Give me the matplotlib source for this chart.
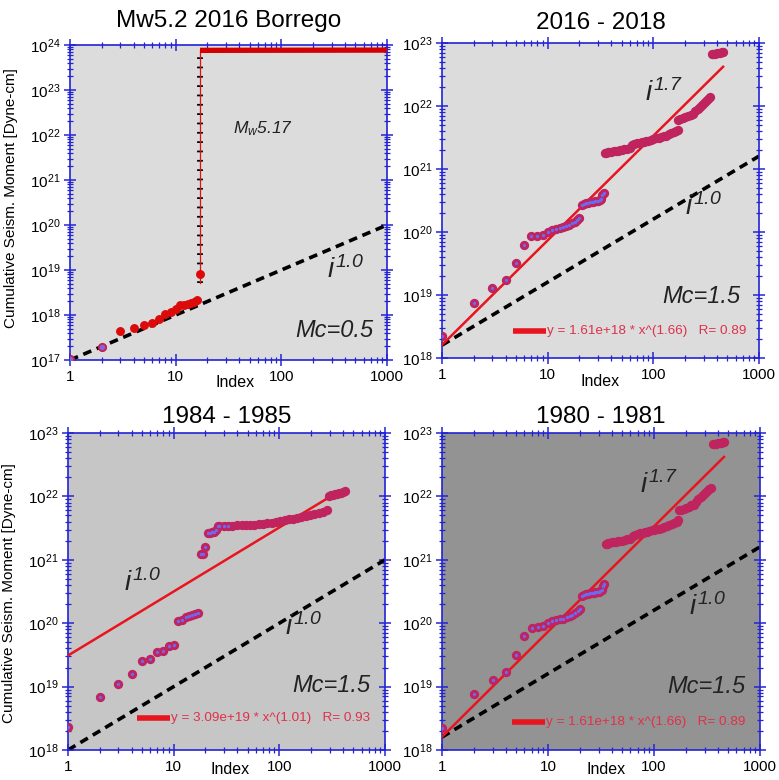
import numpy as np
import matplotlib
matplotlib.use("Agg")
from matplotlib import pyplot as plt
from matplotlib.ticker import NullFormatter, LogLocator

plt.rcParams['font.family'] = ['Liberation Sans', 'DejaVu Sans']
# \mathit letters and digits in italic sans, tick labels stay upright (\mathdefault)
plt.rcParams['mathtext.fontset'] = 'custom'
plt.rcParams['mathtext.rm'] = 'Liberation Sans:italic'
plt.rcParams['mathtext.it'] = 'Liberation Sans:italic'
plt.rcParams['mathtext.default'] = 'regular'

# Borrego 2016, Mc=0.5
borrego_idx = [1, 2, 3, 4, 5, 6, 7, 8, 9, 10, 11, 12, 13, 14, 15, 16, 17]
borrego_mo = [1.05e17, 1.9e17, 4.3e17, 5.1e17, 6.0e17, 6.6e17, 8.1e17, 1.05e18, 1.17e18,
              1.37e18, 1.63e18, 1.7e18, 1.75e18, 1.85e18, 1.95e18, 2.2e18, 8.3e18]
borrego_jump = [5.2e18, 7.7e23]      # vertical step at index 17
borrego_tail_idx = [17, 1000]
borrego_tail_mo = [7.6e23, 7.7e23]

# 2016 - 2018 (also shown for 1980 - 1981), Mc=1.5
seq_idx = [1, 2, 3, 4, 5, 6, 7, 8, 9, 10, 11, 12, 13, 14, 15, 16, 17, 18, 19, 20,
           21, 22, 23, 24, 25, 26, 27, 28, 29, 30, 31, 32, 33, 34,
           35, 36, 37, 38, 40, 42, 44, 46, 48, 50, 53, 56, 60, 63, 66, 70, 74, 78, 82,
           86, 90, 95, 100, 106, 112, 118, 125, 132, 140, 148, 156, 164, 170,
           171, 180, 190, 200, 212, 225, 237, 250, 262, 275, 288, 300, 315, 330, 343,
           357, 370, 385, 400, 415, 430, 445, 459]
seq_mo = [2.26e18, 7.6e18, 1.27e19, 1.7e19, 3.2e19, 6.2e19, 8.5e19, 8.7e19, 9.1e19, 9.9e19,
          1.07e20, 1.12e20, 1.16e20, 1.18e20, 1.24e20, 1.29e20, 1.37e20, 1.46e20, 1.55e20, 1.66e20,
          2.7e20, 2.8e20, 2.85e20, 2.9e20, 2.95e20, 3.0e20, 3.0e20, 3.05e20, 3.05e20, 3.1e20,
          3.2e20, 3.4e20, 3.9e20, 4.1e20,
          1.78e21, 1.8e21, 1.83e21, 1.85e21, 1.88e21, 1.9e21, 1.93e21, 1.95e21, 1.98e21, 2.0e21,
          2.05e21, 2.1e21, 2.15e21, 2.4e21, 2.5e21, 2.55e21, 2.6e21, 2.65e21, 2.7e21, 2.75e21,
          2.8e21, 2.9e21, 3.0e21, 3.05e21, 3.1e21, 3.2e21, 3.3e21, 3.4e21, 3.55e21, 3.7e21,
          3.85e21, 4.0e21, 4.2e21,
          6.0e21, 6.2e21, 6.4e21, 6.6e21, 6.9e21, 7.2e21, 7.4e21, 8.3e21, 9.0e21, 9.8e21,
          1.05e22, 1.12e22, 1.2e22, 1.3e22, 1.38e22,
          6.6e22, 6.7e22, 6.8e22, 6.9e22, 6.95e22, 7.0e22, 7.1e22, 7.2e22]
seq_fit = (1.61e18, 1.66, 0.89, 457)   # a, b, R, last index

# 1984 - 1985, Mc=1.5
old_idx = [1, 2, 3, 4, 5, 6, 7, 8, 9, 10, 11, 12, 13, 14, 15, 16, 17,
           18, 19, 20, 21, 22, 23, 24, 25, 26,
           27, 30, 33, 36, 40, 44, 48, 53, 58, 64, 70, 77, 85, 93, 102, 112, 123, 135,
           148, 162, 178, 195, 214, 235, 258, 283,
           292, 305, 320, 335, 350, 368, 385, 402, 419]
old_mo = [2.3e18, 6.8e18, 1.09e19, 1.56e19, 2.5e19, 2.7e19, 3.5e19, 3.7e19, 4.3e19, 4.6e19,
          1.1e20, 1.12e20, 1.27e20, 1.3e20, 1.33e20, 1.38e20, 1.47e20,
          1.24e21, 1.24e21, 1.58e21, 2.65e21, 2.65e21, 2.7e21, 2.75e21, 3.0e21, 3.4e21,
          3.4e21, 3.45e21, 3.45e21, 3.45e21, 3.5e21, 3.5e21, 3.55e21, 3.55e21, 3.6e21, 3.65e21,
          3.7e21, 3.75e21, 3.85e21, 3.95e21, 4.05e21, 4.2e21, 4.35e21, 4.45e21, 4.6e21, 4.75e21,
          4.95e21, 5.1e21, 5.35e21, 5.55e21, 5.75e21, 6.0e21,
          1.02e22, 1.05e22, 1.07e22, 1.09e22, 1.1e22, 1.12e22, 1.14e22, 1.17e22, 1.2e22]
old_fit = (3.09e19, 1.01, 0.93, 293)

# reference slopes i^1.0 (value at index 1)
ref_borrego = 1e17
ref_seq = 1.6e18
ref_old = 1e18

axis_blue = '#2323d6'
ring = '#c0245e'
core = '#6a6af2'
fit_red = '#e8141e'

I10 = r'$\mathit{i}^{\mathit{1.0}}$'
I17 = r'$\mathit{i}^{\mathit{1.7}}$'


def style_axes(ax, ymin, ymax, bg):
    ax.set_xscale('log')
    ax.set_yscale('log')
    ax.set_xlim(1, 1000)
    ax.set_ylim(ymin, ymax)
    ax.set_facecolor(bg)
    for s in ax.spines.values():
        s.set_color(axis_blue)
        s.set_linewidth(1.2)
    ax.set_xticks([1, 10, 100, 1000])
    ax.set_xticklabels(['1', '10', '100', '1000'])
    ax.yaxis.set_major_locator(LogLocator(base=10, numticks=20))
    ax.yaxis.set_minor_locator(LogLocator(base=10, subs=np.arange(2, 10), numticks=50))
    ax.xaxis.set_minor_locator(LogLocator(base=10, subs=np.arange(2, 10), numticks=50))
    ax.xaxis.set_minor_formatter(NullFormatter())
    ax.yaxis.set_minor_formatter(NullFormatter())
    ax.tick_params(which='major', direction='inout', length=8, width=1.1, color=axis_blue,
                   top=True, right=True, labelsize=11, pad=3)
    ax.tick_params(which='minor', direction='inout', length=4.5, width=0.9, color=axis_blue,
                   top=True, right=True)


def draw_sequence(ax, idx, mo, fit, ref, legend_xy, labels):
    idx = np.array(idx)
    mo = np.array(mo)
    xs = np.array([1, 1000])
    ax.plot(xs, ref * xs, color='black', lw=2.6, dashes=(2.4, 1.6), zorder=2)
    a, b, r, last = fit
    xf = np.array([1, last])
    ax.plot(xf, a * xf ** b, color=fit_red, lw=1.8, zorder=3)
    ax.plot(idx, mo, 'o', ms=5.7, mfc=ring, mec=ring, mew=1.0, zorder=4)
    sparse = idx <= 34
    ax.plot(idx[sparse], mo[sparse], 'o', ms=2.4, mfc=core, mec=core, mew=0, zorder=5)
    # line segment + fit equation
    lx, ly = legend_xy
    ax.plot([lx, lx + 0.105], [ly, ly], color=fit_red, lw=4, transform=ax.transAxes,
            solid_capstyle='butt', zorder=6)
    ax.text(lx + 0.108, ly, 'y = %.2fe+%d * x^(%.2f)   R= %.2f' % (
        a / 10 ** int(np.log10(a)), int(np.log10(a)), b, r),
        transform=ax.transAxes, color='#e0304a', fontsize=9.7, va='center', ha='left')
    for (tx, ty, txt) in labels:
        ax.text(tx, ty, txt, transform=ax.transAxes, fontsize=20, ha='left', va='center',
                color='#222222')


fig = plt.figure(figsize=(7.79, 7.80), dpi=100)
ax1 = fig.add_axes([70 / 779, 1 - 360 / 780, 317 / 779, 315 / 780])
ax2 = fig.add_axes([442 / 779, 1 - 358 / 780, 317 / 779, 315 / 780])
ax3 = fig.add_axes([68 / 779, 1 - 750 / 780, 317 / 779, 317 / 780])
ax4 = fig.add_axes([442 / 779, 1 - 750 / 780, 318 / 779, 317 / 780])

style_axes(ax1, 1e17, 1e24, '#dcdcdc')
style_axes(ax2, 1e18, 1e23, '#dcdcdc')
style_axes(ax3, 1e18, 1e23, '#c6c6c6')
style_axes(ax4, 1e18, 1e23, '#939393')

# --- Borrego panel
xs = np.array([1, 1000])
ax1.plot(xs, ref_borrego * xs, color='black', lw=2.6, dashes=(2.4, 1.6), zorder=2)
ax1.plot([17, 17], borrego_jump, color='black', lw=4.2, dashes=(0.3, 1.3),
         dash_capstyle='butt', zorder=3)
ax1.plot([17, 17], borrego_jump, color='#e01010', lw=0.9, zorder=4)
ax1.plot(borrego_tail_idx, borrego_tail_mo, color='#d40000', lw=3.8, zorder=4,
         solid_capstyle='butt')
ax1.plot(borrego_idx, borrego_mo, 'o', ms=5.4, mfc='#dd0a0a', mec='#dd0a0a', zorder=5)
ax1.plot(borrego_idx[:2], borrego_mo[:2], 'o', ms=5.0, mfc='#7a6ae0', mec='#c0245e',
         mew=1.2, zorder=6)
ax1.text(0.515, 0.735, r'$\mathit{M_w5.17}$', transform=ax1.transAxes, fontsize=12.5,
         ha='left', va='center', color='#222222')
ax1.text(0.81, 0.285, I10, transform=ax1.transAxes, fontsize=20,
         ha='left', va='center', color='#222222')

# --- sequences
draw_sequence(ax2, seq_idx, seq_mo, seq_fit, ref_seq, (0.224, 0.086),
              [(0.64, 0.84, I17), (0.765, 0.479, I10)])
draw_sequence(ax3, old_idx, old_mo, old_fit, ref_old, (0.218, 0.10),
              [(0.178, 0.527, I10), (0.686, 0.388, I10)])
draw_sequence(ax4, seq_idx, seq_mo, seq_fit, ref_seq, (0.22, 0.088),
              [(0.622, 0.836, I17), (0.778, 0.451, I10)])

mc_labels = [(ax1, 0.956, 0.095, 'Mc=0.5'), (ax2, 0.94, 0.194, 'Mc=1.5'),
             (ax3, 0.953, 0.202, 'Mc=1.5'), (ax4, 0.953, 0.20, 'Mc=1.5')]
for ax, tx, ty, txt in mc_labels:
    ax.text(tx, ty, txt, transform=ax.transAxes, fontsize=17, style='italic',
            ha='right', va='center', color='#222222')

titles = [(ax1, 'Mw5.2 2016 Borrego', 13), (ax2, '2016 - 2018', 10),
          (ax3, '1984 - 1985', 7), (ax4, '1980 - 1981', 7)]
for ax, t, pad in titles:
    ax.set_title(t, fontsize=17.5, pad=pad)

index_pos = [(ax1, 0.52, -0.073), (ax2, 0.50, -0.076), (ax3, 0.51, -0.063), (ax4, 0.515, -0.063)]
for ax, tx, ty in index_pos:
    ax.text(tx, ty, 'Index', transform=ax.transAxes, fontsize=11.5, ha='center', va='center')

for ax, ly in [(ax1, 0.514), (ax3, 0.495)]:
    ax.set_ylabel('Cumulative Seism. Moment [Dyne-cm]', fontsize=11)
    ax.yaxis.set_label_coords(-0.165, ly)

fig.savefig('out.png', dpi=100)
